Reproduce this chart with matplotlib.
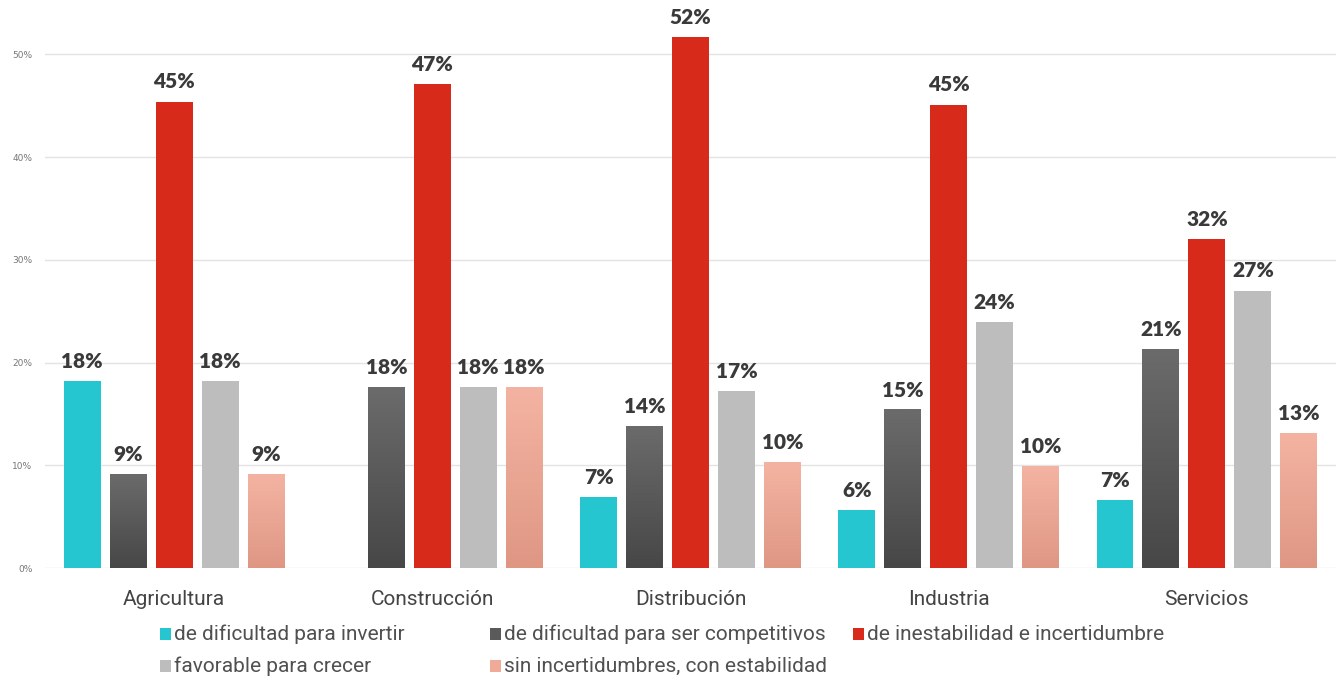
import numpy as np
import matplotlib
matplotlib.use("Agg")
import matplotlib.pyplot as plt
from matplotlib.colors import LinearSegmentedColormap
from matplotlib.patches import Rectangle

# sectors and share of answers per expectation (%)
sectores = ["Agricultura", "Construcción", "Distribución", "Industria", "Servicios"]
series = [
    "de dificultad para invertir",
    "de dificultad para ser competitivos",
    "de inestabilidad e incertidumbre",
    "favorable para crecer",
    "sin incertidumbres, con estabilidad",
]
invertir = [18.2, 0.0, 6.9, 5.6, 6.6]
competitivos = [9.1, 17.6, 13.8, 15.4, 21.3]
inestabilidad = [45.4, 47.1, 51.7, 45.1, 32.0]
crecer = [18.2, 17.6, 17.2, 23.9, 27.0]
estabilidad = [9.1, 17.6, 10.3, 9.9, 13.1]
valores = [invertir, competitivos, inestabilidad, crecer, estabilidad]
yticks = [0, 10, 20, 30, 40, 50]

# flat colours, plus top/bottom colours for the shaded series
colores = ["#26c6d0", "#5a5a5a", "#d72a1b", "#bdbdbd", "#efaa98"]
degradados = {1: ("#6b6b6b", "#474747"), 4: ("#f4b3a2", "#df9784")}

fig = plt.figure(figsize=(13.36, 6.77), dpi=100)
W, H = 1336, 677
ax = fig.add_axes([45 / W, (H - 568) / H, (W - 45) / W, 565 / H])

x = np.arange(len(sectores))
paso = 0.178
ancho = 0.143

for i, vals in enumerate(valores):
    pos = x + (i - 2) * paso
    for p, v in zip(pos, vals):
        if v <= 0:
            continue
        if i in degradados:
            cmap = LinearSegmentedColormap.from_list("g%d" % i, list(degradados[i]))
            grad = np.linspace(0, 1, 100).reshape(-1, 1)
            ax.imshow(grad, cmap=cmap, aspect="auto", origin="upper",
                      extent=(p - ancho / 2, p + ancho / 2, 0, v), zorder=3)
        else:
            ax.bar(p, v, width=ancho, color=colores[i], zorder=3, linewidth=0)
        ax.text(p, v + 1.0, "%d%%" % round(v), ha="center", va="bottom",
                fontsize=15, fontweight="heavy", family="Lato", color="#3a3a3a",
                zorder=4)

ax.set_xlim(-0.5, 4.5)
ax.set_ylim(0, 55)
ax.set_yticks(yticks)
ax.set_yticklabels(["%d%%" % t for t in yticks])
ax.tick_params(axis="y", length=0, labelsize=6.5, labelcolor="#777777", pad=9)
ax.set_xticks(x)
ax.set_xticklabels(sectores)
ax.tick_params(axis="x", length=0, labelsize=15, labelcolor="#444444", pad=16)
for lab in ax.get_xticklabels():
    lab.set_family("Roboto")
ax.grid(axis="y", color="#e3e3e3", linewidth=1.0, zorder=0)
for s in ax.spines.values():
    s.set_visible(False)

# legend laid out in two rows
filas = [(634, 0), (634, 1), (634, 2), (666, 3), (666, 4)]
columnas = [160, 490, 853]
for k, (yy, i) in enumerate(filas):
    xx = columnas[k % 3] if k < 3 else columnas[k - 3]
    fig.patches.append(Rectangle((xx / W, (H - yy - 6) / H), 11 / W, 12 / H,
                                 transform=fig.transFigure, facecolor=colores[i],
                                 edgecolor="none"))
    fig.text((xx + 14) / W, (H - yy) / H, series[i], ha="left", va="center",
             fontsize=15, family="Roboto", color="#505050")

fig.savefig("out.png", dpi=100, facecolor="white")
